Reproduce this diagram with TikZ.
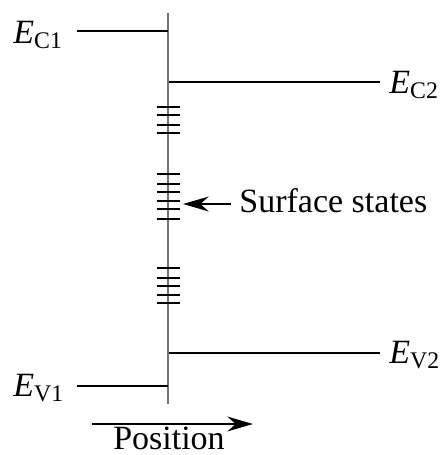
\documentclass[tikz,border=0pt]{standalone}
\usepackage{fontspec}
\setmainfont{Liberation Serif}
\usetikzlibrary{arrows.meta,positioning}
\tikzset{
  level/.style={line width=1.3pt,color=black},
  iface/.style={line width=0.9pt,color=black!55},
  trap/.style={line width=1.4pt,color=black},
  pointer/.style={-{Stealth[length=4.5mm,width=2.6mm]},line width=1.1pt},
  lbl/.style={inner sep=0pt,font=\fontsize{17}{20}\selectfont}
}
\newcommand{\band}[2]{\textit{#1}\textsubscript{#2}}

\begin{document}
\begin{tikzpicture}[x=0.5pt,y=-0.5pt]
  \useasboundingbox (0,0) rectangle (441,455);
  % interface
  \coordinate (top) at (168,13);
  \coordinate (bot) at (168,404);
  \draw[iface] (top) -- (bot);
  % band edges
  \node[lbl,anchor=base west] (ec1) at (13,43) {\band{E}{C1}};
  \node[lbl,anchor=base west] (ec2) at (389,93) {\band{E}{C2}};
  \node[lbl,anchor=base west] (ev1) at (13,396) {\band{E}{V1}};
  \node[lbl,anchor=base west] (ev2) at (389,363) {\band{E}{V2}};
  \coordinate (c1a) at (77,31);   \coordinate (c1b) at (168,31);
  \coordinate (c2a) at (169,82);  \coordinate (c2b) at (380,82);
  \coordinate (v1a) at (77,386);  \coordinate (v1b) at (168,386);
  \coordinate (v2a) at (169,353); \coordinate (v2b) at (380,353);
  \draw[level] (c1a) -- (c1b);
  \draw[level] (c2a) -- (c2b);
  \draw[level] (v1a) -- (v1b);
  \draw[level] (v2a) -- (v2b);
  % surface states
  \foreach \y in {107,115,125,133,174,184,192,201,209,219,268,278,286,295,303}
    \draw[trap] (157,\y) -- (180,\y);
  \node[lbl,anchor=base west] (ss) at (239,212) {Surface states};
  \coordinate (sstip) at (183,204);
  \coordinate (sstail) at (231,204);
  \draw[pointer] (sstail) -- (sstip);
  % position axis
  \node[lbl,anchor=base] (pos) at (169,449) {Position};
  \coordinate (pa) at (92,424);
  \coordinate (pb) at (253,424);
  \draw[pointer] (pa) -- (pb);
\end{tikzpicture}
\end{document}
